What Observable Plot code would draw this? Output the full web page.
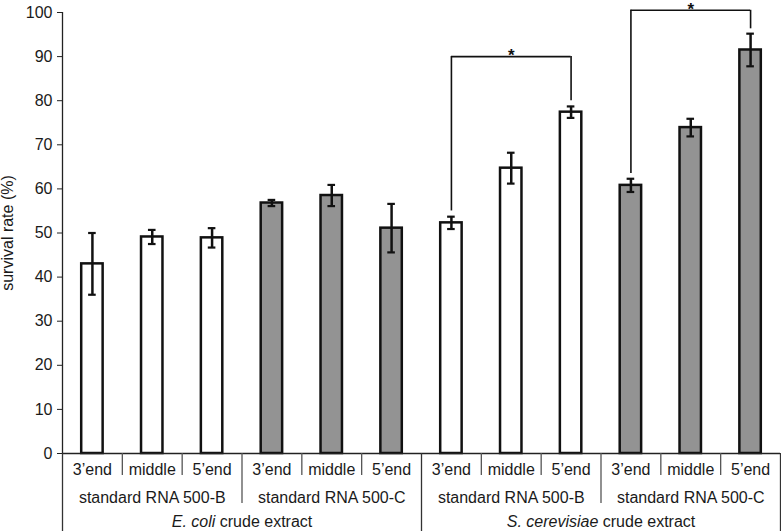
<!DOCTYPE html>
<html><head><meta charset="utf-8">
<script src="https://cdn.jsdelivr.net/npm/d3@7"></script>
<script src="https://cdn.jsdelivr.net/npm/@observablehq/plot@0.6"></script>
<style>body{margin:0;background:#fff} svg{display:block}</style>
</head><body><div id="chart"></div>
<script>
const species = ["E. coli", "S. cerevisiae"];
const standards = ["standard RNA 500-B", "standard RNA 500-C"];
const positions = ["3’end", "middle", "5’end"];
const values = [43.0, 49.1, 48.9, 56.8, 58.5, 51.1, 52.3, 64.7, 77.4, 60.8, 73.9, 91.5];
const errors = [7.0, 1.6, 2.2, 0.7, 2.4, 5.5, 1.4, 3.5, 1.3, 1.5, 2.0, 3.7];
const yTicks = [0, 10, 20, 30, 40, 50, 60, 70, 80, 90, 100];
const yLabel = "survival rate (%)";
const bracketFrom = [6, 9];
const bracketTo = [8, 11];
const bracketY = [90, 100.5];
const bracketFromEnd = [55, 63.5];
const bracketToEnd = [80, 96.3];
const bracketMark = ["*", "*"];
const suffix = " crude extract";

const rows = [];
species.forEach((sp, s) => standards.forEach((st, k) => positions.forEach((p, j) => {
  const i = rows.length;
  rows.push({i, k, x1: i, x2: i + 1, xc: i + 0.5, position: p, value: values[i], err: errors[i]});
})));
const stdGroups = [];
species.forEach((sp, s) => standards.forEach((st, k) => {
  const start = (s * standards.length + k) * positions.length;
  stdGroups.push({label: st, xc: start + positions.length / 2});
}));
const spGroups = species.map((sp, s) => ({label: sp + suffix, xc: s * standards.length * positions.length + standards.length * positions.length / 2}));
const brackets = bracketFrom.map((f, i) => ({from: f, to: bracketTo[i], y: bracketY[i], fromEnd: bracketFromEnd[i], toEnd: bracketToEnd[i], mark: bracketMark[i]}));
const nBands = rows.length;
const bounds = d3.range(nBands + 1).map(b => ({b, level: b % 6 === 0 ? 3 : b % 3 === 0 ? 2 : 1}));
const sepLen = {1: 22, 2: 50, 3: 78};

const lineColor = "#555";
const font = "'Liberation Sans', Arial, sans-serif";

const plot = Plot.plot({
  width: 781, height: 531,
  marginLeft: 62, marginRight: 1, marginTop: 12, marginBottom: 78,
  style: {fontFamily: font, color: "#1a1a1a", background: "#fff", overflow: "visible"},
  x: {type: "linear", domain: [0, nBands], axis: null},
  y: {domain: [0, 100], axis: null},
  marks: [
    // bars
    Plot.rectY(rows.filter(d => d.k === 0), {x1: "x1", x2: "x2", y: "value", fill: "#ffffff", stroke: "#111", strokeWidth: 2.5, insetLeft: 19.2, insetRight: 19.2}),
    Plot.rectY(rows.filter(d => d.k === 1), {x1: "x1", x2: "x2", y: "value", fill: "#939393", stroke: "#111", strokeWidth: 2.5, insetLeft: 19.2, insetRight: 19.2}),
    // error bars
    Plot.ruleX(rows, {x: "xc", y1: d => d.value - d.err, y2: d => d.value + d.err, stroke: "#111", strokeWidth: 2.5}),
    Plot.ruleY(rows, {y: d => d.value + d.err, x1: "xc", x2: "xc", insetLeft: -3.8, insetRight: -3.8, stroke: "#111", strokeWidth: 2.2}),
    Plot.ruleY(rows, {y: d => d.value - d.err, x1: "xc", x2: "xc", insetLeft: -3.8, insetRight: -3.8, stroke: "#111", strokeWidth: 2.2}),
    // brackets
    Plot.ruleY(brackets, {y: "y", x1: d => d.from + 0.5, x2: d => d.to + 0.5, stroke: "#111", strokeWidth: 1.6}),
    Plot.ruleX(brackets, {x: d => d.from + 0.5, y1: "fromEnd", y2: "y", stroke: "#111", strokeWidth: 1.6}),
    Plot.ruleX(brackets, {x: d => d.to + 0.5, y1: "toEnd", y2: "y", stroke: "#111", strokeWidth: 1.6}),
    Plot.text(brackets, {x: d => (d.from + d.to) / 2 + 0.5, y: "y", text: "mark", fontSize: 17, fontWeight: "bold", dy: -1, fill: "#111"}),
    // axes lines
    Plot.ruleX([0], {x: d => d, y1: 0, y2: 100, stroke: "#222", strokeWidth: 1.3}),
    Plot.ruleY([0], {y: d => d, x1: 0, x2: nBands, stroke: "#222", strokeWidth: 1.3}),
    Plot.axisY(yTicks, {tickSize: 5, tickPadding: 5, fontSize: 16, label: null, stroke: "#222"}),
    Plot.text([yLabel], {frameAnchor: "left", textAnchor: "middle", rotate: -90, dx: -55, fontSize: 16, text: d => d}),
    // category table
    ...[1, 2, 3].map(level => Plot.ruleX(bounds.filter(d => d.level === level), {x: "b", y1: () => 0, y2: () => 0, insetBottom: -sepLen[level], stroke: level === 3 ? "#333" : lineColor, strokeWidth: 1.3})),
    Plot.text(rows, {x: "xc", y: () => 0, text: "position", dy: 16.5, fontSize: 16}),
    Plot.text(stdGroups, {x: "xc", y: () => 0, text: "label", dy: 44.5, fontSize: 16}),
    Plot.text(spGroups, {x: "xc", y: () => 0, text: "label", dy: 68, fontSize: 16})
  ]
});

// italicise species names
d3.select(plot).selectAll("text").each(function() {
  const t = this.textContent;
  const sp = species.find(s => t === s + suffix);
  if (sp) {
    const el = d3.select(this);
    el.text(null);
    el.append("tspan").attr("font-style", "italic").text(sp);
    el.append("tspan").text(suffix);
  }
});

document.getElementById("chart").appendChild(plot);
</script>
</body></html>
